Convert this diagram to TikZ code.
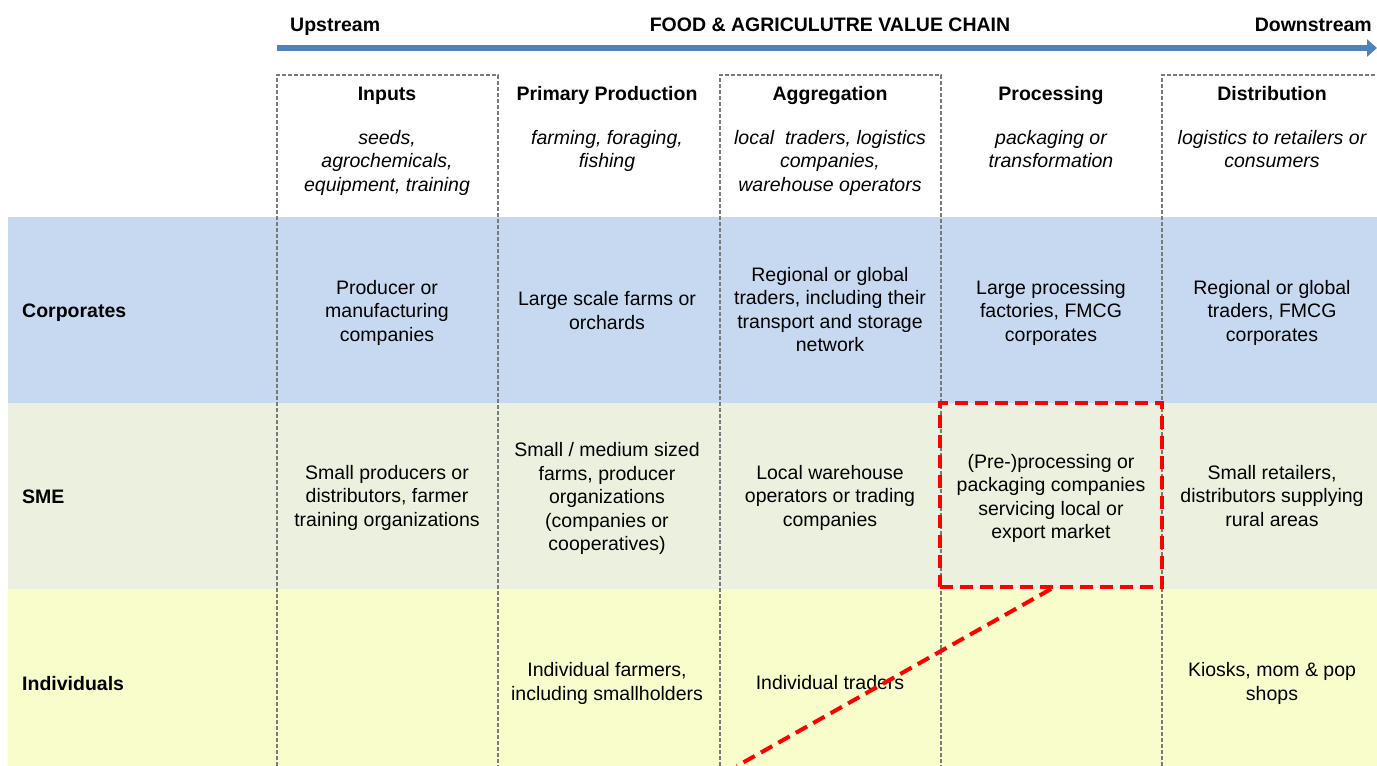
\documentclass[tikz,border=0pt]{standalone}
\usepackage{fontspec}
\setmainfont{Liberation Sans}
\usetikzlibrary{arrows.meta}
\definecolor{chainblue}{HTML}{4F81BD}
\definecolor{corpband}{HTML}{C6D9F1}
\definecolor{smeband}{HTML}{EBF1DE}
\definecolor{indband}{HTML}{F8FDCB}
\definecolor{gridgray}{HTML}{7A7A7A}
\begin{document}
\begin{tikzpicture}[x=1pt,y=-1pt,
  every node/.style={font=\fontsize{19.5pt}{23.5pt}\selectfont, align=center, inner sep=0pt,
    execute at begin node=\strut, execute at end node=\strut},
  txt/.style={yshift=-3pt},
  head/.style={txt, font=\fontsize{19.5pt}{23.5pt}\selectfont\bfseries},
  sub/.style={txt, font=\fontsize{19.5pt}{23.5pt}\selectfont\itshape},
  rowlab/.style={txt, font=\fontsize{19.5pt}{23.5pt}\selectfont\bfseries, anchor=west},
  colline/.style={draw=gridgray, line width=1.2pt, dash pattern=on 4pt off 2pt},
  hlbox/.style={draw=red, line width=4pt, dash pattern=on 13pt off 7pt, minimum width=222pt, minimum height=184pt},
  hlline/.style={draw=red, line width=4pt, dash pattern=on 13pt off 7pt},
]
\useasboundingbox (0,0) rectangle (1377,766);
% bands
\fill[corpband] (8,217) rectangle (1377,403);
\fill[smeband] (8,403) rectangle (1377,589);
\fill[indband] (8,589) rectangle (1377,766);
% value chain arrow
\node[head, anchor=west] (up) at (290,24) {Upstream};
\node[head] (title) at (830,24) {FOOD \& AGRICULUTRE VALUE CHAIN};
\node[head, anchor=east] (down) at (1372,24) {Downstream};
\coordinate (arrS) at (277,48);
\coordinate (arrE) at (1377,48);
\draw[chainblue, line width=5.5pt, -{Triangle[length=10pt,width=17pt]}] (arrS) -- (arrE);
% dashed column boxes
\draw[colline] (277,766) -- (277,75) -- (498,75) -- (498,766);
\draw[colline] (720,766) -- (720,75) -- (941,75) -- (941,766);
\draw[colline] (1162,766) -- (1162,75) -- (1377,75);
% column headers
\node[head] (hInputs) at (387,93) {Inputs};
\node[head] (hPrim) at (607,93) {Primary Production};
\node[head] (hAgg) at (830,93) {Aggregation};
\node[head] (hProc) at (1051,93) {Processing};
\node[head] (hDist) at (1272,93) {Distribution};
\node[sub] (sInputs) at (387,161) {seeds,\\agrochemicals,\\equipment, training};
\node[sub] (sPrim) at (607,149.5) {farming, foraging,\\fishing};
\node[sub] (sAgg) at (830,161) {local\ \ traders, logistics\\companies,\\warehouse operators};
\node[sub] (sProc) at (1051,149.5) {packaging or\\transformation};
\node[sub] (sDist) at (1272,149.5) {logistics to retailers or\\consumers};
% row labels
\node[rowlab] (rCorp) at (22,310) {Corporates};
\node[rowlab] (rSME) at (22,496) {SME};
\node[rowlab] (rInd) at (22,683) {Individuals};
% corporates row
\node[txt] (c1) at (387,311) {Producer or\\manufacturing\\companies};
\node[txt] (c2) at (607,311) {Large scale farms or\\orchards};
\node[txt] (c3) at (830,310) {Regional or global\\traders, including their\\transport and storage\\network};
\node[txt] (c4) at (1051,311) {Large processing\\factories, FMCG\\corporates};
\node[txt] (c5) at (1272,311) {Regional or global\\traders, FMCG\\corporates};
% SME row
\node[txt] (s1) at (387,496) {Small producers or\\distributors, farmer\\training organizations};
\node[txt] (s2) at (607,497) {Small / medium sized\\farms, producer\\organizations\\(companies or\\cooperatives)};
\node[txt] (s3) at (830,496) {Local warehouse\\operators or trading\\companies};
\node[txt] (s4) at (1051,497) {(Pre-)processing or\\packaging companies\\servicing local or\\export market};
\node[txt] (s5) at (1272,496) {Small retailers,\\distributors supplying\\rural areas};
% individuals row
\node[txt] (i2) at (607,682) {Individual farmers,\\including smallholders};
\node[txt] (i3) at (830,682) {Individual traders};
\node[txt] (i5) at (1272,682) {Kiosks, mom \& pop\\shops};
% highlight
\node[hlbox, execute at begin node={}, execute at end node={}] (hl) at (1051,495) {};
\coordinate (tail) at (737,766);
\draw[hlline] (hl.south) -- (tail);
\end{tikzpicture}
\end{document}
